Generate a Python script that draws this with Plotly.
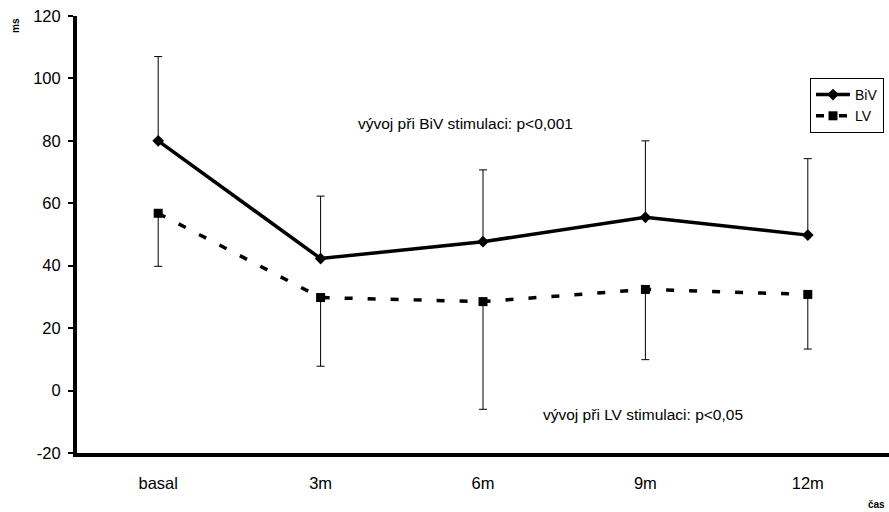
import plotly.graph_objects as go

categories = ["basal", "3m", "6m", "9m", "12m"]
biv_values = [80, 42.3, 47.7, 55.5, 49.8]
biv_err_plus = [27, 20, 23, 24.5, 24.5]
lv_values = [56.8, 29.8, 28.5, 32.4, 30.8]
lv_err_minus = [17, 22, 34.5, 22.5, 17.5]
y_ticks = [-20, 0, 20, 40, 60, 80, 100, 120]
y_tick_labels = ["-20", "0", "20", "40", "60", "80", "100", "120"]

FONT = "Liberation Sans, Arial, sans-serif"

fig = go.Figure()
fig.add_trace(go.Scatter(
    x=categories, y=biv_values, name="BiV", mode="lines+markers",
    line=dict(color="black", width=3.5),
    marker=dict(symbol="diamond", size=9, color="black"),
    error_y=dict(type="data", symmetric=False, array=biv_err_plus,
                 arrayminus=[0] * 5, color="black", thickness=1, width=4),
))
fig.add_trace(go.Scatter(
    x=categories, y=lv_values, name="LV", mode="lines+markers",
    line=dict(color="black", width=3.5, dash="8px,15px"),
    marker=dict(symbol="square", size=9, color="black"),
    error_y=dict(type="data", symmetric=False, array=[0] * 5,
                 arrayminus=lv_err_minus, color="black", thickness=1, width=4),
))

fig.add_annotation(x=1.216, y=85.7, xref="x", yref="y", xanchor="left",
                   text="vývoj při BiV stimulaci: p<0,001", showarrow=False,
                   font=dict(size=15.5, color="black", family=FONT))
fig.add_annotation(x=2.358, y=-7.7, xref="x", yref="y", xanchor="left",
                   text="vývoj při LV stimulaci: p<0,05", showarrow=False,
                   font=dict(size=15.5, color="black", family=FONT))
fig.add_annotation(x=-62 / 812, y=(453 - 26) / 437, xref="paper", yref="paper",
                   showarrow=False, text="<b>ms</b>", textangle=-90,
                   xanchor="center", yanchor="middle",
                   font=dict(size=10, color="black", family=FONT))
fig.add_annotation(x=(876 - 77) / 812, y=-(504 - 453) / 437, xref="paper", yref="paper",
                   showarrow=False, text="<b>čas</b>", xanchor="center", yanchor="middle",
                   font=dict(size=10, color="black", family=FONT))

fig.update_layout(
    width=889, height=512,
    margin=dict(l=77, r=0, t=16, b=59),
    paper_bgcolor="white", plot_bgcolor="white",
    font=dict(family=FONT, color="black", size=16),
    showlegend=True,
    legend=dict(x=(810 - 77) / 812, y=(453 - 78) / 437, xanchor="left", yanchor="top",
                bordercolor="black", borderwidth=1, bgcolor="white",
                font=dict(size=14, family=FONT), itemwidth=34,
                tracegroupgap=0),
    xaxis=dict(type="category", range=[-0.5, 4.5], showgrid=False, zeroline=False,
               showline=True, linecolor="black", linewidth=4, ticks="",
               tickfont=dict(size=16.5, family=FONT), ticklabelstandoff=12),
    yaxis=dict(range=[-20, 120], tickmode="array", tickvals=y_ticks, ticktext=y_tick_labels,
               showgrid=False, zeroline=False,
               showline=True, linecolor="black", linewidth=4, ticks="outside",
               ticklen=5, tickwidth=2, tickcolor="black", ticklabelstandoff=4,
               tickfont=dict(size=16.5, family=FONT)),
)

fig.write_html("out.html")
